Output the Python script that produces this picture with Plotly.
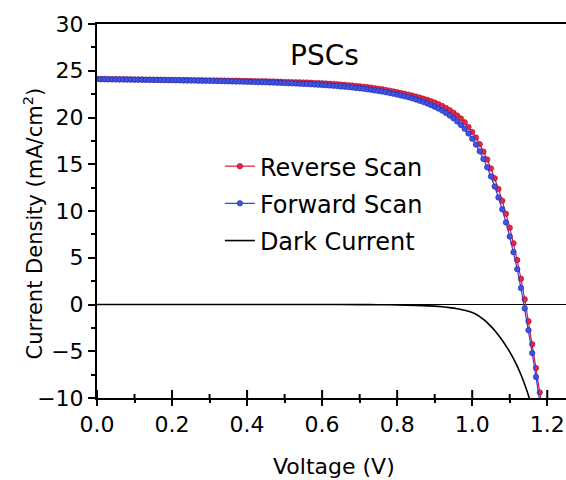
import plotly.graph_objects as go

# Voltage sweep (V) shared by both illuminated scans
voltage = [
    0.00, 0.01, 0.02, 0.03, 0.04, 0.05, 0.06, 0.07, 0.08, 0.09,
    0.10, 0.11, 0.12, 0.13, 0.14, 0.15, 0.16, 0.17, 0.18, 0.19,
    0.20, 0.21, 0.22, 0.23, 0.24, 0.25, 0.26, 0.27, 0.28, 0.29,
    0.30, 0.31, 0.32, 0.33, 0.34, 0.35, 0.36, 0.37, 0.38, 0.39,
    0.40, 0.41, 0.42, 0.43, 0.44, 0.45, 0.46, 0.47, 0.48, 0.49,
    0.50, 0.51, 0.52, 0.53, 0.54, 0.55, 0.56, 0.57, 0.58, 0.59,
    0.60, 0.61, 0.62, 0.63, 0.64, 0.65, 0.66, 0.67, 0.68, 0.69,
    0.70, 0.71, 0.72, 0.73, 0.74, 0.75, 0.76, 0.77, 0.78, 0.79,
    0.80, 0.81, 0.82, 0.83, 0.84, 0.85, 0.86, 0.87, 0.88, 0.89,
    0.90, 0.91, 0.92, 0.93, 0.94, 0.95, 0.96, 0.97, 0.98, 0.99,
    1.00, 1.01, 1.02, 1.03, 1.04, 1.05, 1.06, 1.07, 1.08, 1.09,
    1.10, 1.11, 1.12, 1.13, 1.14, 1.15, 1.16, 1.17, 1.18, 1.19,
]

# Current density (mA/cm^2), reverse scan
reverse_scan = [
    24.12, 24.11, 24.11, 24.10, 24.10, 24.09, 24.09, 24.08, 24.08, 24.07,
    24.07, 24.06, 24.06, 24.05, 24.05, 24.04, 24.04, 24.03, 24.03, 24.02,
    24.02, 24.01, 24.01, 24.00, 24.00, 23.99, 23.99, 23.98, 23.98, 23.97,
    23.97, 23.96, 23.96, 23.95, 23.95, 23.94, 23.93, 23.93, 23.92, 23.91,
    23.91, 23.90, 23.89, 23.88, 23.88, 23.87, 23.86, 23.85, 23.84, 23.82,
    23.80, 23.79, 23.78, 23.77, 23.76, 23.75, 23.74, 23.72, 23.70, 23.68,
    23.66, 23.64, 23.61, 23.58, 23.55, 23.52, 23.49, 23.45, 23.42, 23.38,
    23.34, 23.29, 23.25, 23.20, 23.14, 23.08, 23.01, 22.94, 22.87, 22.79,
    22.71, 22.62, 22.53, 22.44, 22.34, 22.24, 22.13, 22.01, 21.89, 21.75,
    21.60, 21.43, 21.24, 21.02, 20.78, 20.51, 20.21, 19.88, 19.48, 18.98,
    18.45, 17.85, 17.15, 16.35, 15.50, 14.55, 13.50, 12.35, 11.10, 9.70,
    8.20, 6.55, 4.75, 2.75, 0.55, -1.80, -4.25, -6.80, -9.40, -12.05,
]

# Current density (mA/cm^2), forward scan
forward_scan = [
    24.12, 24.10, 24.10, 24.09, 24.08, 24.08, 24.07, 24.07, 24.06, 24.06,
    24.05, 24.05, 24.04, 24.03, 24.03, 24.02, 24.02, 24.01, 24.00, 24.00,
    23.99, 23.98, 23.98, 23.97, 23.96, 23.96, 23.95, 23.94, 23.93, 23.93,
    23.92, 23.91, 23.90, 23.89, 23.88, 23.87, 23.86, 23.85, 23.84, 23.83,
    23.82, 23.81, 23.80, 23.78, 23.77, 23.76, 23.74, 23.73, 23.71, 23.70,
    23.68, 23.66, 23.65, 23.63, 23.61, 23.59, 23.57, 23.55, 23.52, 23.50,
    23.47, 23.45, 23.42, 23.39, 23.36, 23.32, 23.29, 23.25, 23.21, 23.16,
    23.12, 23.07, 23.02, 22.96, 22.90, 22.84, 22.77, 22.70, 22.62, 22.54,
    22.45, 22.36, 22.26, 22.16, 22.05, 21.93, 21.80, 21.66, 21.51, 21.34,
    21.16, 20.96, 20.74, 20.49, 20.22, 19.92, 19.58, 19.21, 18.79, 18.30,
    17.74, 17.10, 16.38, 15.57, 14.68, 13.70, 12.62, 11.45, 10.18, 8.78,
    7.27, 5.60, 3.78, 1.76, -0.42, -2.75, -5.20, -7.75, -10.35, -13.00,
]

# Dark current (mA/cm^2)
dark_voltage = [
    0.00, 0.10, 0.20, 0.30, 0.40, 0.50, 0.60, 0.70, 0.75, 0.80,
    0.85, 0.90, 0.92, 0.94, 0.96, 0.97, 0.98, 0.99, 1.00, 1.01,
    1.02, 1.03, 1.04, 1.05, 1.06, 1.07, 1.08, 1.09, 1.10, 1.11,
    1.12, 1.13, 1.14, 1.15, 1.16,
]
dark_current = [
    0.00, 0.00, 0.00, 0.00, 0.00, 0.00, 0.00, -0.01, -0.02, -0.04,
    -0.09, -0.17, -0.24, -0.33, -0.45, -0.53, -0.62, -0.73, -0.86, -1.05,
    -1.30, -1.59, -1.94, -2.34, -2.78, -3.28, -3.82, -4.42, -5.07, -5.79,
    -6.60, -7.52, -8.56, -9.74, -11.07,
]

series_names = ["Reverse Scan", "Forward Scan", "Dark Current"]
FONT = "DejaVu Sans"
X_TICKS = [0, 0.2, 0.4, 0.6, 0.8, 1.0, 1.2]
X_LABELS = ["0.0", "0.2", "0.4", "0.6", "0.8", "1.0", "1.2"]
X_RANGE = [0, 1.25]
Y_RANGE = [-10, 30]

WIDTH, HEIGHT = 566, 480
MARGIN = dict(l=97, r=0, t=24, b=82)
PLOT_H = HEIGHT - MARGIN["t"] - MARGIN["b"]

fig = go.Figure()

fig.add_trace(go.Scatter(
    x=voltage, y=reverse_scan, name=series_names[0], mode="lines+markers",
    line=dict(color="rgb(214,28,62)", width=1.2),
    marker=dict(symbol="circle", size=5.5, color="rgb(226,40,72)",
                line=dict(color="rgb(170,10,40)", width=0.6)),
    legendgroup="r",
))
fig.add_trace(go.Scatter(
    x=voltage, y=forward_scan, name=series_names[1], mode="lines+markers",
    line=dict(color="rgb(48,64,210)", width=1.2),
    marker=dict(symbol="circle", size=5.5, color="rgb(62,84,226)",
                line=dict(color="rgb(30,40,170)", width=0.6)),
    legendgroup="f",
))
fig.add_trace(go.Scatter(
    x=dark_voltage, y=dark_current, name=series_names[2], mode="lines",
    line=dict(color="black", width=1.6, shape="spline", smoothing=0.6),
    legendgroup="d",
))

# Inward tick marks on the voltage axis, so the ticks cross the axis line
minor_ticks = [(a + b) / 2 for a, b in zip(X_TICKS[:-1], X_TICKS[1:])]
inner_ticks = []
for v, length in [(t, 8) for t in X_TICKS] + [(t, 4) for t in minor_ticks]:
    inner_ticks.append(dict(
        type="line", xref="x", yref="paper", x0=v, x1=v,
        y0=0, y1=length / PLOT_H,
        line=dict(color="black", width=2), layer="above",
    ))

axis_common = dict(
    showgrid=False, showline=True, linecolor="black", linewidth=2,
    tickcolor="black", tickwidth=2,
    tickfont=dict(family=FONT, size=22, color="black"),
)

fig.update_layout(
    width=WIDTH, height=HEIGHT,
    margin=MARGIN,
    paper_bgcolor="white", plot_bgcolor="white",
    font=dict(family=FONT, color="black"),
    xaxis=dict(
        range=X_RANGE, tickvals=X_TICKS, ticktext=X_LABELS,
        ticks="outside", ticklen=6, mirror=True, zeroline=False,
        minor=dict(ticks="outside", ticklen=3, dtick=0.1, tick0=0,
                   tickcolor="black", tickwidth=2, showgrid=False),
        **axis_common,
    ),
    yaxis=dict(
        range=Y_RANGE, dtick=5, tick0=0,
        ticks="outside", ticklen=7,
        zeroline=True, zerolinecolor="black", zerolinewidth=1.2,
        minor=dict(ticks="outside", ticklen=4, dtick=2.5, tick0=0,
                   tickcolor="black", tickwidth=2, showgrid=False),
        **axis_common,
    ),
    shapes=inner_ticks,
    legend=dict(
        x=0.262, y=0.679, xanchor="left", yanchor="top",
        bgcolor="rgba(0,0,0,0)", borderwidth=0,
        font=dict(family=FONT, size=24, color="black"),
        tracegroupgap=3,
    ),
    showlegend=True,
    annotations=[
        dict(text="PSCs", x=0.607, y=26.6, xref="x", yref="y",
             showarrow=False, font=dict(family=FONT, size=28, color="black")),
        dict(text="Voltage (V)", x=0.505, y=-0.183, xref="paper", yref="paper",
             showarrow=False, xanchor="center", yanchor="middle",
             font=dict(family=FONT, size=22, color="black")),
        dict(text="Current Density (mA/cm<sup>2</sup>)", x=-0.137, y=0.466,
             xref="paper", yref="paper", textangle=-90, showarrow=False,
             xanchor="center", yanchor="middle",
             font=dict(family=FONT, size=21, color="black")),
    ],
)

fig.write_html("out.html")
